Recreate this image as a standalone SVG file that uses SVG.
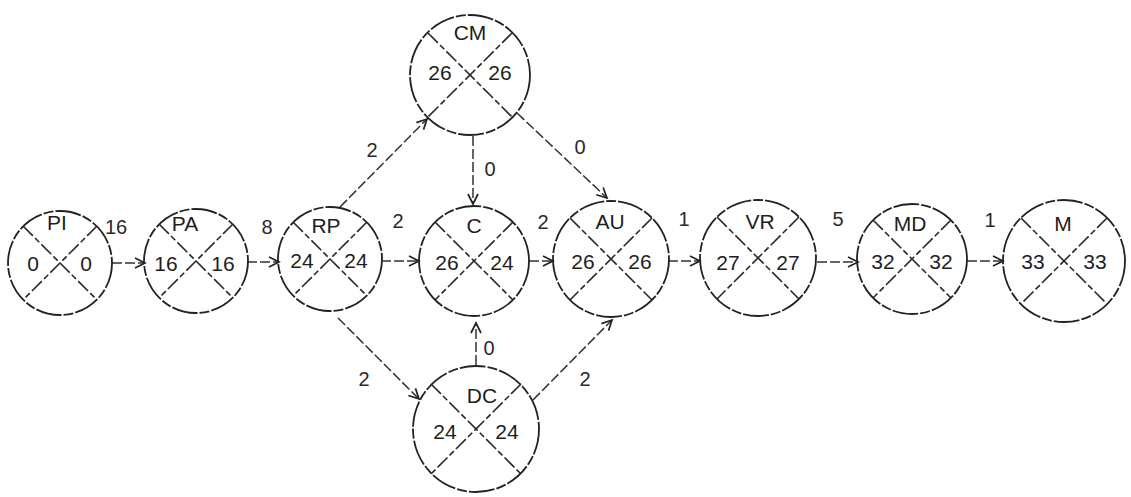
<svg xmlns="http://www.w3.org/2000/svg" width="1131" height="497" viewBox="0 0 1131 497">
<style>
.c{fill:none;stroke:#222;stroke-width:1.8;stroke-dasharray:26 2 10 2}
.x{stroke:#2a2a2a;stroke-width:1.6;stroke-dasharray:14 3 6 3}
.e{fill:none;stroke:#333;stroke-width:1.5;stroke-dasharray:10 3;marker-end:url(#ah)}
.t{font-family:"Liberation Sans",Arial,sans-serif;font-size:21px;fill:#1e1e1e;text-anchor:middle}
.l{font-family:"Liberation Sans",Arial,sans-serif;font-size:20px;fill:#2a2a2a;text-anchor:middle}
</style>
<defs>
<marker id="ah" markerUnits="userSpaceOnUse" markerWidth="14" markerHeight="14" refX="11" refY="6" orient="auto">
<path d="M1,1 L11,6 L1,11" fill="none" stroke="#222" stroke-width="1.7"/>
</marker>
</defs>
<rect width="1131" height="497" fill="#fff"/>
<g id="connectors">
<line class="e" x1="112" y1="263" x2="145" y2="263"/>
<line class="e" x1="247" y1="262" x2="279" y2="262"/>
<line class="e" x1="381" y1="261" x2="419" y2="261"/>
<line class="e" x1="529" y1="261" x2="553" y2="261"/>
<line class="e" x1="668" y1="261" x2="700" y2="261"/>
<line class="e" x1="817" y1="262" x2="858" y2="262"/>
<line class="e" x1="967" y1="261" x2="1003" y2="261"/>
<line class="e" x1="340" y1="207" x2="427" y2="119"/>
<line class="e" x1="473" y1="136" x2="473" y2="204"/>
<line class="e" x1="517" y1="113" x2="607" y2="198"/>
<line class="e" x1="338" y1="318" x2="419" y2="399"/>
<line class="e" x1="476" y1="365" x2="476" y2="323"/>
<line class="e" x1="533" y1="400" x2="612" y2="320"/>
<text class="l" x="116" y="234">16</text>
<text class="l" x="267" y="234">8</text>
<text class="l" x="372" y="157">2</text>
<text class="l" x="398" y="228">2</text>
<text class="l" x="490" y="176">0</text>
<text class="l" x="580" y="154">0</text>
<text class="l" x="543" y="229">2</text>
<text class="l" x="684" y="226">1</text>
<text class="l" x="838" y="226">5</text>
<text class="l" x="990" y="227">1</text>
<text class="l" x="364" y="386">2</text>
<text class="l" x="489" y="355">0</text>
<text class="l" x="585" y="386">2</text>
</g>
<g id="PI">
<circle class="c" cx="60" cy="263" r="52"/>
<line class="x" x1="23" y1="226" x2="97" y2="300"/>
<line class="x" x1="97" y1="226" x2="23" y2="300"/>
<text class="t" x="57" y="230">PI</text>
<text class="t" x="33" y="271">0</text>
<text class="t" x="86" y="271">0</text>
</g>
<g id="PA">
<circle class="c" cx="196" cy="261" r="52"/>
<line class="x" x1="159" y1="224" x2="233" y2="298"/>
<line class="x" x1="233" y1="224" x2="159" y2="298"/>
<text class="t" x="185" y="231">PA</text>
<text class="t" x="166" y="271">16</text>
<text class="t" x="223" y="271">16</text>
</g>
<g id="RP">
<circle class="c" cx="330" cy="259" r="52"/>
<line class="x" x1="293" y1="222" x2="367" y2="296"/>
<line class="x" x1="367" y1="222" x2="293" y2="296"/>
<text class="t" x="326" y="233">RP</text>
<text class="t" x="302" y="268">24</text>
<text class="t" x="356" y="268">24</text>
</g>
<g id="CM">
<circle class="c" cx="470" cy="75" r="60"/>
<line class="x" x1="428" y1="33" x2="512" y2="117"/>
<line class="x" x1="512" y1="33" x2="428" y2="117"/>
<text class="t" x="470" y="40">CM</text>
<text class="t" x="440" y="80">26</text>
<text class="t" x="500" y="80">26</text>
</g>
<g id="C">
<circle class="c" cx="474" cy="261" r="55"/>
<line class="x" x1="435" y1="222" x2="513" y2="300"/>
<line class="x" x1="513" y1="222" x2="435" y2="300"/>
<text class="t" x="474" y="233">C</text>
<text class="t" x="447" y="270">26</text>
<text class="t" x="502" y="270">24</text>
</g>
<g id="DC">
<circle class="c" cx="476" cy="429" r="63"/>
<line class="x" x1="431" y1="384" x2="521" y2="474"/>
<line class="x" x1="521" y1="384" x2="431" y2="474"/>
<text class="t" x="482" y="403">DC</text>
<text class="t" x="445" y="439">24</text>
<text class="t" x="507" y="439">24</text>
</g>
<g id="AU">
<circle class="c" cx="611" cy="259" r="58"/>
<line class="x" x1="570" y1="218" x2="652" y2="300"/>
<line class="x" x1="652" y1="218" x2="570" y2="300"/>
<text class="t" x="610" y="229">AU</text>
<text class="t" x="583" y="269">26</text>
<text class="t" x="640" y="269">26</text>
</g>
<g id="VR">
<circle class="c" cx="758" cy="258" r="58"/>
<line class="x" x1="717" y1="217" x2="799" y2="299"/>
<line class="x" x1="799" y1="217" x2="717" y2="299"/>
<text class="t" x="760" y="229">VR</text>
<text class="t" x="728" y="270">27</text>
<text class="t" x="788" y="270">27</text>
</g>
<g id="MD">
<circle class="c" cx="912" cy="259" r="55"/>
<line class="x" x1="873" y1="220" x2="951" y2="298"/>
<line class="x" x1="951" y1="220" x2="873" y2="298"/>
<text class="t" x="910" y="231">MD</text>
<text class="t" x="883" y="269">32</text>
<text class="t" x="941" y="269">32</text>
</g>
<g id="M">
<circle class="c" cx="1064" cy="261" r="61"/>
<line class="x" x1="1021" y1="218" x2="1107" y2="304"/>
<line class="x" x1="1107" y1="218" x2="1021" y2="304"/>
<text class="t" x="1063" y="231">M</text>
<text class="t" x="1033" y="269">33</text>
<text class="t" x="1095" y="269">33</text>
</g>
</svg>
